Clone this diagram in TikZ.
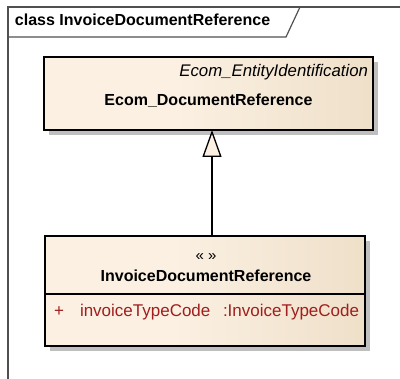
\documentclass[tikz,border=0pt]{standalone}
\usepackage{fontspec}
\setmainfont{Liberation Sans}
\usetikzlibrary{arrows.meta,shadows}
\definecolor{creamc}{RGB}{251,240,226}
\definecolor{tanc}{RGB}{228,210,180}
\definecolor{attrc}{RGB}{160,30,30}
\definecolor{framec}{RGB}{80,80,80}
\pgfdeclarehorizontalshading{umlshade}{100bp}{color(0bp)=(creamc); color(45bp)=(creamc); color(100bp)=(tanc)}
\tikzset{
  umlbox/.style={draw=black, line width=1.4pt, shading=umlshade, inner sep=0pt, outer sep=0pt,
    drop shadow={shadow xshift=5pt, shadow yshift=-5pt, fill=black!25, opacity=1}},
  txt/.style={inner sep=0pt, outer sep=0pt, font=\fontsize{17}{20}\selectfont, text height=12pt, text depth=3.5pt},
  boldtxt/.style={txt, font=\fontsize{16}{19}\selectfont\bfseries},
  attr/.style={txt, text=attrc},
  framel/.style={draw=framec, line width=1.2pt},
  gen/.style={line width=1.3pt, -{Triangle[length=27pt, width=19pt, fill=creamc]}}
}
\begin{document}
\begin{tikzpicture}[x=1pt, y=-1pt]
\useasboundingbox (0,0) rectangle (400,379);
% frame
\coordinate (fbl) at (8,379);
\coordinate (ftl) at (8,7);
\coordinate (ftr) at (400,7);
\coordinate (tabl) at (8,37);
\coordinate (tabc) at (286,37);
\coordinate (tabt) at (300,7);
\draw[framel] (fbl) -- (ftl) -- (ftr);
\draw[framel] (tabl) -- (tabc) -- (tabt);
\node[boldtxt, anchor=west] (title) at (15,21) {class InvoiceDocumentReference};
% base class
\node[umlbox, minimum width=329pt, minimum height=73pt] (base) at (208.5,93.5) {};
\node[txt, anchor=east, font=\fontsize{16.8}{20}\selectfont\itshape] (stereo) at (368,72) {Ecom\_EntityIdentification};
\node[boldtxt] (basename) at (208.5,101) {Ecom\_DocumentReference};
% derived class
\node[umlbox, minimum width=320pt, minimum height=110pt] (sub) at (205,291) {};
\coordinate (divl) at (45,294);
\coordinate (divr) at (365,294);
\draw[line width=1.2pt] (divl) -- (divr);
\node[txt, font=\fontsize{15}{18}\selectfont] (guil) at (206,256) {« »};
\node[boldtxt] (subname) at (206,277) {InvoiceDocumentReference};
\node[attr, anchor=west] (vis) at (54,312) {+};
\node[attr, anchor=west] (aname) at (80,312) {invoiceTypeCode};
\node[attr, anchor=west] (atype) at (223,312) {:InvoiceTypeCode};
% generalization
\coordinate (gstart) at (212,236);
\coordinate (gend) at (212,130);
\draw[gen] (gstart) -- (gend);
\end{tikzpicture}
\end{document}
